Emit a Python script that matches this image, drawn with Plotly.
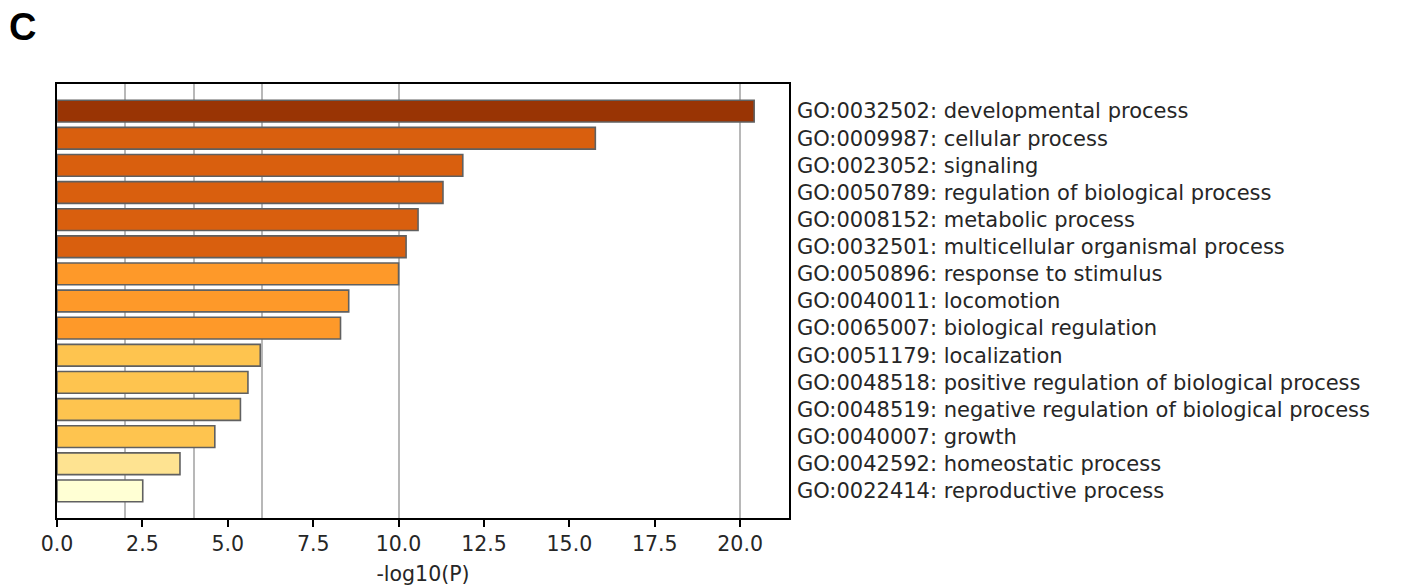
import plotly.graph_objects as go

terms = [
    "GO:0032502: developmental process",
    "GO:0009987: cellular process",
    "GO:0023052: signaling",
    "GO:0050789: regulation of biological process",
    "GO:0008152: metabolic process",
    "GO:0032501: multicellular organismal process",
    "GO:0050896: response to stimulus",
    "GO:0040011: locomotion",
    "GO:0065007: biological regulation",
    "GO:0051179: localization",
    "GO:0048518: positive regulation of biological process",
    "GO:0048519: negative regulation of biological process",
    "GO:0040007: growth",
    "GO:0042592: homeostatic process",
    "GO:0022414: reproductive process",
]
neg_log_p = [20.41, 15.76, 11.88, 11.30, 10.57, 10.22, 10.00, 8.54, 8.30,
             5.95, 5.59, 5.37, 4.62, 3.60, 2.51]
bar_colors = ["#993404", "#d95f0e", "#d95f0e", "#d95f0e", "#d95f0e", "#d95f0e",
              "#fe9929", "#fe9929", "#fe9929",
              "#fec44f", "#fec44f", "#fec44f", "#fec44f",
              "#fee391", "#ffffd4"]
x_ticks = [0, 2.5, 5, 7.5, 10, 12.5, 15, 17.5, 20]
x_tick_labels = ["0.0", "2.5", "5.0", "7.5", "10.0", "12.5", "15.0", "17.5", "20.0"]
grid_lines = [2, 4, 6, 10, 20]

idx = list(range(len(terms)))
font_main = "DejaVu Sans"
txt_color = "#262626"

fig = go.Figure()
fig.add_trace(go.Bar(
    x=neg_log_p, y=idx, orientation="h", width=0.8,
    marker=dict(color=bar_colors, line=dict(color="#606060", width=1.6)),
    showlegend=False, hoverinfo="x+text", text=terms, textposition="none",
))
# invisible trace on overlay axis to carry gridlines
fig.add_trace(go.Scatter(x=[None], y=[None], xaxis="x2", showlegend=False))

fig.update_layout(
    width=1411, height=586,
    margin=dict(l=57, r=622, t=84, b=68, autoexpand=False),
    paper_bgcolor="white", plot_bgcolor="white",
    font=dict(family=font_main, size=20, color=txt_color),
    xaxis=dict(
        range=[0, 21.43], tickvals=x_ticks, ticktext=x_tick_labels,
        ticks="outside", ticklen=7, tickwidth=1.5, tickcolor="black",
        showgrid=False, zeroline=False, automargin=False,
        showline=True, linecolor="black", linewidth=1.5, mirror=True,
        title=dict(text="-log10(P)", font=dict(size=20.5, color=txt_color), standoff=13),
        tickfont=dict(size=20.5, color=txt_color),
    ),
    xaxis2=dict(
        overlaying="x", matches="x", range=[0, 21.43], tickvals=grid_lines,
        showticklabels=False, ticks="", showgrid=True, gridcolor="#b8b8b8",
        gridwidth=2, zeroline=False, showline=False, automargin=False,
    ),
    yaxis=dict(
        range=[15.0, -1.0], tickvals=idx, ticktext=terms, side="right",
        ticks="", showgrid=False, zeroline=False, automargin=False,
        showline=True, linecolor="black", linewidth=1.5, mirror=True,
        ticklabelstandoff=2, tickfont=dict(size=21, color=txt_color),
    ),
    annotations=[dict(
        text="<b>C</b>", xref="paper", yref="paper", x=0, y=1, xshift=-50, yshift=57,
        xanchor="left", yanchor="middle", showarrow=False,
        font=dict(family="Liberation Sans", size=38, color="black"),
    )],
)

fig.write_html("out.html", config={"displayModeBar": False},
               post_script="document.body.style.margin='0';")
